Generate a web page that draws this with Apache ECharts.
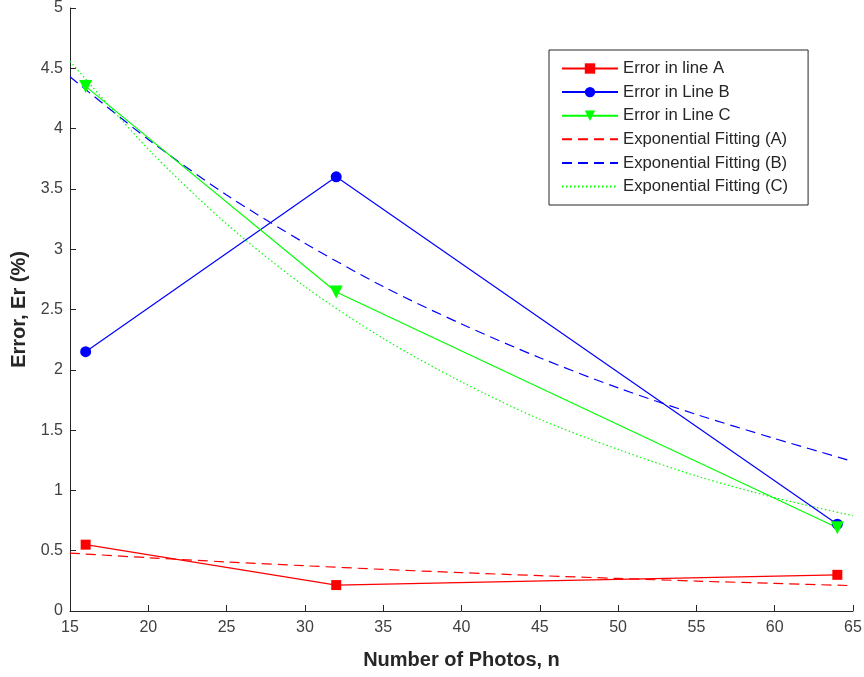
<!DOCTYPE html>
<html><head><meta charset="utf-8">
<script src="https://cdn.jsdelivr.net/npm/echarts@6/dist/echarts.min.js"></script>
<style>html,body{margin:0;padding:0;background:#fff}#c{width:864px;height:677px}</style>
</head><body><div id="c"></div>
<script>
const photos = [16, 32, 64];
const errA = [0.55, 0.215, 0.30];
const errB = [2.15, 3.60, 0.72];
const errC = [4.35, 2.645, 0.69];
const fitX = [15, 20, 25, 30, 35, 40, 45, 50, 55, 60, 65];
const fitA = [0.48, 0.442, 0.407, 0.375, 0.345, 0.318, 0.293, 0.270, 0.248, 0.229, 0.21];
const fitB = [4.43, 3.91, 3.45, 3.05, 2.69, 2.38, 2.10, 1.85, 1.63, 1.43, 1.24];
const fitC = [4.56, 3.83, 3.21, 2.69, 2.26, 1.90, 1.59, 1.34, 1.12, 0.94, 0.79];
const names = ['Error in line A','Error in Line B','Error in Line C','Exponential Fitting (A)','Exponential Fitting (B)','Exponential Fitting (C)'];
const xTitle = 'Number of Photos, n';
const yTitle = 'Error, Er (%)';

const zip = (xs, ys) => xs.map((x, i) => [x, ys[i]]);
const font = 'Liberation Sans, Arial, sans-serif';
const chart = echarts.init(document.getElementById('c'), null, {renderer:'canvas'});
function lineSeries(name, data, color, symbol, size, rot){
  return {name, type:'line', data, symbol, symbolSize:size, symbolRotate:rot||0,
    lineStyle:{color, width:1.2}, itemStyle:{color}, animation:false, z:3};
}
function fitSeries(name, data, color, dash){
  return {name, type:'line', data, symbol:'none', smooth:0.3,
    lineStyle:{color, width:1.2, type:dash}, itemStyle:{color}, animation:false, z:2};
}
chart.setOption({
  animation:false,
  grid:{left:70, right:11, top:8, bottom:66, containLabel:false, outerBoundsMode:'none'},
  xAxis:{type:'value', min:15, max:65, interval:5,
    name:xTitle, nameLocation:'middle', nameGap:39,
    nameTextStyle:{fontFamily:font, fontWeight:'bold', fontSize:20, color:'#262626'},
    axisLine:{lineStyle:{color:'#262626', width:1}},
    axisTick:{inside:true, length:6, lineStyle:{color:'#262626'}},
    axisLabel:{fontFamily:font, fontSize:16, color:'#404040', margin:9},
    splitLine:{show:false}},
  yAxis:{type:'value', min:0, max:5, interval:0.5,
    name:yTitle, nameLocation:'middle', nameGap:34,
    nameTextStyle:{fontFamily:font, fontWeight:'bold', fontSize:20, color:'#262626'},
    axisLine:{show:true, lineStyle:{color:'#262626', width:1}},
    axisTick:{show:true, inside:true, length:6, lineStyle:{color:'#262626'}},
    axisLabel:{fontFamily:font, fontSize:16, color:'#404040', margin:7},
    splitLine:{show:false}},
  legend:{orient:'vertical', left:549, top:50,
    backgroundColor:'#fff', borderColor:'#262626', borderWidth:1,
    padding:[10, 20, 10, 12], itemGap:6.6, itemWidth:56, itemHeight:13,
    textStyle:{fontFamily:font, fontSize:16.7, color:'#262626'},
    data:names.map((n,i)=> i<3 ? {name:n} : {name:n, itemStyle:{opacity:0}})},
  series:[
    lineSeries(names[0], zip(photos, errA), '#ff0000', 'rect', 10),
    lineSeries(names[1], zip(photos, errB), '#0000ff', 'circle', 11),
    lineSeries(names[2], zip(photos, errC), '#00ff00', 'triangle', 13, 180),
    fitSeries(names[3], zip(fitX, fitA), '#ff0000', [10,6]),
    fitSeries(names[4], zip(fitX, fitB), '#0000ff', [10,6]),
    fitSeries(names[5], zip(fitX, fitC), '#00ff00', [1.5,2.5])
  ]
});
</script></body></html>
